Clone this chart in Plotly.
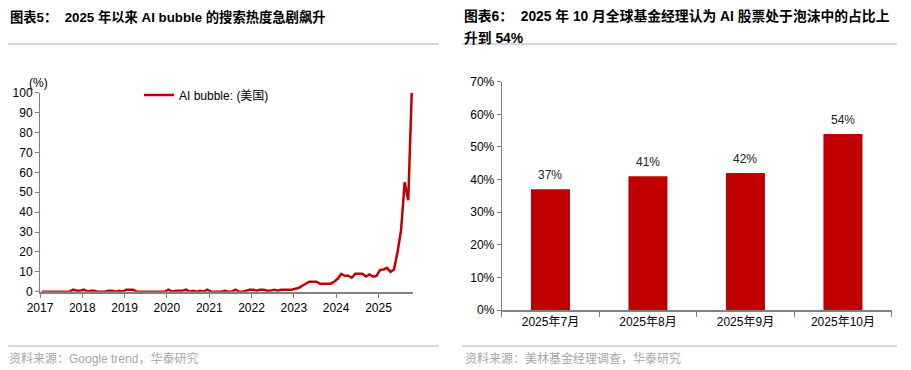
import plotly.graph_objects as go
import pandas as pd

# ---------------- Data ----------------
# Left: Google trend "AI bubble" (US), monthly, 2017-01 .. 2025-10
trend_2017 = [0, 0, 0, 0, 0, 0, 0, 0, 0, 1, 0.5, 0.5]
trend_2018 = [1, 0, 0.5, 0.5, 0, 0, 0, 0.5, 0.5, 0, 0.5, 0]
trend_2019 = [1, 1, 1, 0, 0, 0, 0, 0, 0, 0, 0, 0]
trend_2020 = [1, 0, 0.5, 0.5, 0.5, 1, 0, 0.5, 0, 0.5, 0, 1]
trend_2021 = [0, 0, 0, 0, 0.5, 0, 0, 1, 0, 0, 0.5, 1]
trend_2022 = [1, 0.5, 1, 1, 0.5, 0.5, 1, 0.5, 1, 1, 1, 1]
trend_2023 = [1.5, 2, 3, 4, 5, 5, 5, 4, 4, 4, 4, 5]
trend_2024 = [6.5, 9, 8, 8, 7, 9, 9, 9, 7.6, 8.7, 7.6, 7.9]
trend_2025 = [11, 11.2, 12, 10, 11.2, 20, 31, 55, 46, 100]
trend_values = (trend_2017 + trend_2018 + trend_2019 + trend_2020 + trend_2021
                + trend_2022 + trend_2023 + trend_2024 + trend_2025)
trend_dates = pd.date_range("2017-01-01", periods=len(trend_values), freq="MS") + pd.Timedelta(days=14)
year_ticks = list(range(2017, 2026))

# Right: share of fund managers seeing AI stocks in a bubble
months = ["2025年7月", "2025年8月", "2025年9月", "2025年10月"]
share = [37, 41, 42, 54]

# ---------------- Style ----------------
PAGE_W, PAGE_H = 911, 370
OFF = 8  # default body margin of the page
W, H = PAGE_W - OFF, PAGE_H - OFF
RED = "#C00000"
AXIS = "#808080"
SEP = "#9FB1C9"
SRC = "#A6A6A6"
FONT = "Liberation Sans, Arial, Noto Sans CJK SC, sans-serif"

def px_x(p):
    return (p - OFF) / W

def px_y(p):
    return (PAGE_H - p) / H

fig = go.Figure()

fig.add_trace(go.Scatter(
    x=trend_dates, y=trend_values, mode="lines",
    line=dict(color=RED, width=2.5),
    name="AI bubble: (美国)",
    xaxis="x", yaxis="y", showlegend=True, cliponaxis=False,
))

fig.add_trace(go.Bar(
    x=months, y=share, marker=dict(color=RED, line=dict(width=0)),
    xaxis="x2", yaxis="y2", showlegend=False,
))

annotations = []
# bar labels
for m, v in zip(months, share):
    annotations.append(dict(
        x=m, y=v, xref="x2", yref="y2", text=f"{v}%", showarrow=False,
        yshift=14, font=dict(size=12, color="#222222", family=FONT),
    ))

# titles
annotations.append(dict(
    x=px_x(8), y=px_y(17), xref="paper", yref="paper", xanchor="left", yanchor="middle",
    text="<b>图表5：  2025 年以来 AI bubble 的搜索热度急剧飙升</b>", showarrow=False,
    font=dict(size=13.3, color="#000000", family=FONT),
))
annotations.append(dict(
    x=px_x(462), y=px_y(16), xref="paper", yref="paper", xanchor="left", yanchor="middle",
    text="<b>图表6：  2025 年 10 月全球基金经理认为 AI 股票处于泡沫中的占比上</b>", showarrow=False,
    font=dict(size=13.8, color="#000000", family=FONT),
))
annotations.append(dict(
    x=px_x(462), y=px_y(38), xref="paper", yref="paper", xanchor="left", yanchor="middle",
    text="<b>升到 54%</b>", showarrow=False,
    font=dict(size=13.8, color="#000000", family=FONT),
))
# sources
annotations.append(dict(
    x=px_x(7), y=px_y(358), xref="paper", yref="paper", xanchor="left", yanchor="middle",
    text="资料来源：Google trend，华泰研究", showarrow=False,
    font=dict(size=12, color=SRC, family=FONT),
))
annotations.append(dict(
    x=px_x(463), y=px_y(358), xref="paper", yref="paper", xanchor="left", yanchor="middle",
    text="资料来源：美林基金经理调查，华泰研究", showarrow=False,
    font=dict(size=12, color=SRC, family=FONT),
))
# unit label
annotations.append(dict(
    x=px_x(38), y=px_y(83), xref="paper", yref="paper", xanchor="center", yanchor="middle",
    text="(%)", showarrow=False, font=dict(size=12, color="#000000", family=FONT),
))

shapes = [
    dict(type="line", xref="paper", yref="paper", x0=px_x(7), x1=px_x(439),
         y0=px_y(44), y1=px_y(44), line=dict(color=SEP, width=1)),
    dict(type="line", xref="paper", yref="paper", x0=px_x(462), x1=px_x(897),
         y0=px_y(44), y1=px_y(44), line=dict(color=SEP, width=1)),
    dict(type="line", xref="paper", yref="paper", x0=px_x(7), x1=px_x(439),
         y0=px_y(346), y1=px_y(346), line=dict(color=SEP, width=1)),
    dict(type="line", xref="paper", yref="paper", x0=px_x(462), x1=px_x(897),
         y0=px_y(346), y1=px_y(346), line=dict(color=SEP, width=1)),
]

tick_font = dict(size=12, color="#000000", family=FONT)

fig.update_layout(
    width=W, height=H, margin=dict(l=0, r=0, t=0, b=0, autoexpand=False),
    paper_bgcolor="white", plot_bgcolor="white",
    font=dict(family=FONT),
    bargap=0.6,
    annotations=annotations, shapes=shapes,
    legend=dict(x=px_x(139), y=px_y(95), xanchor="left", yanchor="middle",
                bgcolor="rgba(0,0,0,0)", font=dict(size=12, color="#000000", family=FONT),
                itemwidth=30),
    xaxis=dict(
        domain=[px_x(40), px_x(413)], type="date",
        range=["2017-01-01", "2025-10-26"],
        tickvals=[f"{y}-01-01" for y in year_ticks], ticktext=[str(y) for y in year_ticks],
        showline=True, linecolor=AXIS, linewidth=2, ticks="outside", ticklen=4,
        tickcolor=AXIS, showgrid=False, zeroline=False, tickfont=tick_font,
        anchor="y", automargin=False,
    ),
    yaxis=dict(
        domain=[px_y(291.7), px_y(92.7)], range=[0, 100], dtick=10,
        showline=True, linecolor=AXIS, linewidth=1, ticks="outside", ticklen=4,
        tickcolor=AXIS, showgrid=False, zeroline=False, tickfont=tick_font,
        anchor="x", automargin=False,
    ),
    xaxis2=dict(
        domain=[px_x(501.7), px_x(891.7)], type="category", range=[-0.5, 3.5],
        showline=True, linecolor=AXIS, linewidth=1.5, ticks="outside", ticklen=5,
        tickson="boundaries", tickcolor=AXIS, showgrid=False, zeroline=False,
        tickfont=tick_font, anchor="y2", automargin=False,
    ),
    yaxis2=dict(
        domain=[px_y(310), px_y(81.7)], range=[0, 70], dtick=10, ticksuffix="%",
        showline=True, linecolor=AXIS, linewidth=1, ticks="outside", ticklen=4,
        tickcolor=AXIS, showgrid=False, zeroline=False, tickfont=tick_font,
        anchor="x2", automargin=False,
    ),
)

fig.write_html("out.html")
